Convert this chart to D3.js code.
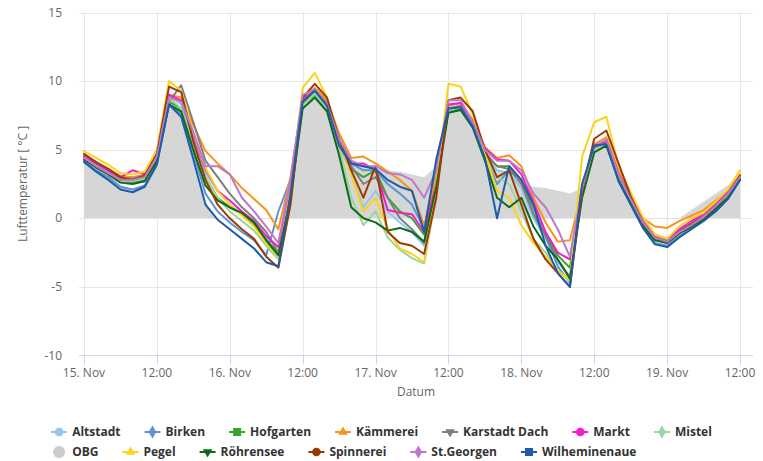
<!DOCTYPE html>
<html><head><meta charset="utf-8">
<script src="https://cdn.jsdelivr.net/npm/d3@7/dist/d3.min.js"></script>
<style>
body{margin:0;background:#fff}
svg{display:block}
text{font-family:"Open Sans",sans-serif}
</style>
</head><body>
<svg id="chart" width="763" height="461"></svg>
<script>
// ---- data ----
const hours = d3.range(0, 110, 2); // hours since 15 Nov 00:00, every 2 h
const xTickHours = [0, 12, 24, 36, 48, 60, 72, 84, 96, 108];
const xTickLabels = ["15. Nov","12:00","16. Nov","12:00","17. Nov","12:00","18. Nov","12:00","19. Nov","12:00"];
const yTicks = [-10, -5, 0, 5, 10, 15];
const yTitle = "Lufttemperatur [ °C ]";
const xTitle = "Datum";

const altstadt = [4.5,3.9,3.4,2.8,2.8,3.0,4.5,9.0,8.3,5.8, 3.3,2.0,1.0,0.3,-0.5,-1.5,-2.6,2.5,8.6,9.3, 8.2,5.5,3.2,0.8,2.0,0.5,-0.3,-1.0,-2.0,2.8, 8.0,8.2,6.8,4.7,3.5,3.3,2.2,0.0,-1.5,-3.2, -4.2,2.2,5.2,5.6,3.0,1.3,-0.3,-1.4,-1.7,-1.0, -0.4,0.1,0.9,1.8,2.9];
const birken = [4.2,3.5,3.0,2.3,2.1,2.4,4.0,8.3,7.6,4.8, 1.8,0.5,-0.3,-1.0,-1.6,-2.7,0.5,2.8,8.8,9.3, 8.1,5.4,4.0,3.5,3.5,2.5,1.8,1.0,-0.8,3.8, 7.9,8.1,6.7,4.5,2.5,3.5,2.6,0.8,-1.3,-3.5, -4.7,2.2,5.2,5.5,2.9,1.1,-0.6,-1.8,-2.0,-1.3, -0.7,-0.2,0.6,1.5,2.8];
const hofgarten = [4.4,3.8,3.3,2.7,2.6,2.8,4.3,8.5,8.0,5.5, 3.0,1.5,0.8,0.3,-0.5,-1.6,-2.5,2.0,8.3,9.0, 8.0,5.4,3.6,3.0,3.5,1.5,0.5,0.0,-1.2,2.8, 7.9,8.0,6.8,4.7,3.8,3.8,2.8,0.3,-1.2,-2.7, -3.6,2.0,5.1,5.5,3.0,1.3,-0.3,-1.4,-1.6,-0.9, -0.4,0.1,0.9,1.7,2.9];
const kaemmerei = [4.6,4.1,3.6,3.1,3.0,3.2,4.6,9.0,8.8,6.8, 4.9,4.0,3.2,2.2,1.4,0.6,-0.8,3.0,8.8,9.5, 8.6,6.2,4.4,4.5,4.0,3.4,2.8,2.0,-0.5,3.0, 8.2,8.4,7.2,5.2,4.4,4.6,3.8,1.5,-0.3,-1.7, -1.6,2.0,5.4,5.9,3.5,1.7,0.0,-0.6,-0.7,-0.2, 0.2,0.6,1.3,2.0,3.2];
const karstadt = [4.5,4.0,3.5,2.9,2.9,3.1,4.4,8.5,9.7,7.0, 4.2,3.0,1.8,0.8,0.0,-1.0,-2.5,1.5,8.3,9.3, 8.4,5.6,3.8,2.5,3.0,1.5,0.0,-0.8,-1.8,2.5, 8.0,8.2,6.9,4.8,3.8,3.6,2.5,0.3,-1.3,-3.0, -4.3,2.0,5.0,5.7,3.2,1.4,-0.2,-1.3,-1.6,-0.9, -0.4,0.2,1.0,1.8,3.0];
const markt = [4.5,4.0,3.5,3.0,3.5,3.2,4.6,9.0,8.6,6.0, 3.6,2.0,1.3,0.5,-0.2,-1.3,-2.1,2.0,8.6,9.3, 8.3,5.8,4.0,4.0,3.5,0.6,0.4,0.3,-1.0,2.5, 8.3,8.4,7.0,5.1,4.3,4.2,3.2,1.2,-1.0,-2.5, -3.0,2.3,5.2,5.6,3.2,1.5,-0.2,-1.2,-1.5,-0.8, -0.2,0.3,1.1,1.9,3.0];
const mistel = [4.4,3.8,3.3,2.7,2.7,2.9,4.3,8.8,8.0,5.5, 3.0,1.5,0.5,-0.2,-0.9,-2.0,-3.0,1.0,8.2,9.1, 8.0,5.2,1.5,-0.5,0.5,-1.4,-2.3,-2.9,-3.3,1.8, 7.9,8.1,6.7,4.6,3.0,2.5,0.5,-1.5,-2.5,-3.8, -4.6,1.6,5.0,5.4,2.9,1.2,-0.4,-1.5,-1.8,-1.1, -0.5,0.0,0.8,1.7,2.8];
const obg = [4.2,3.6,3.1,2.4,2.1,2.5,4.1,8.4,7.5,4.4, 1.2,-0.2,-0.9,-1.6,-2.2,-3.0,-3.4,1.8,8.4,9.1, 8.1,5.3,4.0,3.8,3.6,3.5,3.4,3.2,3.0,3.8, 7.9,8.0,6.6,4.4,3.5,3.2,2.5,2.3,2.2,2.0, 1.8,2.2,5.2,5.4,2.8,1.0,-0.5,-1.5,-1.6,0.0, 0.6,1.2,1.8,2.4,3.1];
const pegel = [4.9,4.4,3.9,3.3,3.2,3.4,5.0,10.0,9.3,6.2, 3.7,2.0,1.0,0.2,-0.6,-1.8,-2.8,2.0,9.5,10.6, 8.8,5.8,3.2,0.5,1.5,-0.8,-2.2,-2.6,-3.2,2.5, 9.8,9.6,7.6,4.8,2.0,1.5,-0.5,-1.8,-2.8,-3.8, -4.5,4.5,7.0,7.4,3.8,1.9,0.1,-1.2,-1.5,-0.6, 0.0,0.4,1.2,2.1,3.5];
const roehrensee = [4.3,3.7,3.2,2.6,2.5,2.7,4.2,8.3,7.8,5.0, 2.4,1.3,0.8,0.4,-0.3,-1.6,-2.7,1.5,8.0,8.8, 7.8,4.6,0.8,0.0,-0.3,-0.9,-0.7,-1.0,-1.7,2.3, 7.7,7.9,6.6,4.2,1.5,0.8,1.5,-0.6,-2.0,-3.0, -4.4,1.5,4.8,5.3,2.8,1.1,-0.5,-1.6,-1.8,-1.1, -0.6,-0.1,0.7,1.5,2.8];
const spinnerei = [4.7,4.1,3.6,3.0,2.8,3.1,4.7,9.6,9.2,5.6, 2.8,1.0,0.0,-0.8,-1.5,-2.8,-3.6,1.0,8.8,9.8, 8.8,5.8,3.5,1.5,3.8,-1.0,-1.8,-2.0,-2.6,1.5, 8.6,8.8,7.8,5.0,3.0,3.5,1.0,-1.5,-3.0,-4.0, -5.0,2.0,5.8,6.4,4.0,1.6,-0.3,-1.4,-1.7,-1.0, -0.4,0.1,0.9,1.8,3.1];
const stgeorgen = [4.4,3.8,3.3,2.8,2.8,3.0,4.5,8.8,8.5,6.3, 3.8,3.8,3.2,1.5,0.5,-0.6,-1.8,2.8,9.0,9.4, 8.3,5.8,4.2,3.8,3.8,3.3,3.2,2.8,1.5,3.5, 8.6,8.6,7.0,5.0,4.2,4.2,3.5,1.8,0.8,-0.8, -2.8,2.2,5.3,5.7,3.2,1.4,-0.3,-1.4,-1.7,-1.0, -0.5,0.1,0.9,1.8,3.0];
const wilheminenaue = [4.1,3.4,2.8,2.1,1.9,2.3,3.9,8.3,7.4,4.3, 1.0,-0.1,-0.8,-1.5,-2.2,-3.2,-3.5,1.8,8.5,9.3, 8.2,5.3,4.0,3.8,3.6,2.8,2.3,2.0,-1.0,4.3, 8.0,8.1,6.7,4.4,0.0,3.8,2.8,1.0,-2.0,-4.0, -5.0,2.5,5.3,5.4,2.7,1.0,-0.7,-1.9,-2.1,-1.4, -0.8,-0.2,0.5,1.4,2.8];

const seriesNames = ["Altstadt","Birken","Hofgarten","Kämmerei","Karstadt Dach","Markt","Mistel","OBG","Pegel","Röhrensee","Spinnerei","St.Georgen","Wilheminenaue"];
const seriesValues = [altstadt,birken,hofgarten,kaemmerei,karstadt,markt,mistel,obg,pegel,roehrensee,spinnerei,stgeorgen,wilheminenaue];
const seriesColors = ["#8ec8f2","#5f93d3","#3aa52c","#f7941d","#7f7f7f","#f31ccc","#9dd59a","#cccccc","#fbd31a","#0d6a16","#9b3a07","#bd78cb","#1d5ca8"];
const seriesSymbols = ["circle","diamond","square","triangle","triangle-down","circle","diamond","circle","triangle","triangle-down","circle","diamond","square"];

// ---- layout ----
const W = 763, H = 461;
const plot = {left: 79, right: 753, top: 12.5, bottom: 355.5};
const svg = d3.select("#chart");

const x = d3.scaleLinear().domain([-0.823, 110.14]).range([plot.left, plot.right]);
const y = d3.scaleLinear().domain([-10, 15]).range([plot.bottom, plot.top]);

// grid
const g = svg.append("g");
g.selectAll("line.vgrid").data(xTickHours).enter().append("line")
  .attr("x1", d => Math.round(x(d)) + 0.5).attr("x2", d => Math.round(x(d)) + 0.5)
  .attr("y1", plot.top).attr("y2", plot.bottom)
  .attr("stroke", "#e6e6e6").attr("stroke-width", 1);
g.selectAll("line.hgrid").data(yTicks.filter(v => v !== -10)).enter().append("line")
  .attr("x1", plot.left).attr("x2", plot.right)
  .attr("y1", d => Math.round(y(d)) + 0.5).attr("y2", d => Math.round(y(d)) + 0.5)
  .attr("stroke", "#e6e6e6").attr("stroke-width", 1);

// clip
svg.append("clipPath").attr("id", "clip").append("rect")
  .attr("x", plot.left).attr("y", plot.top).attr("width", plot.right - plot.left).attr("height", plot.bottom - plot.top);
svg.append("clipPath").attr("id", "clipPos").append("rect")
  .attr("x", plot.left).attr("y", plot.top).attr("width", plot.right - plot.left).attr("height", y(0) - plot.top);

// OBG area (only positive part visible)
const obgIdx = seriesNames.indexOf("OBG");
const area = d3.area().x((d, i) => x(hours[i])).y0(y(0)).y1(d => y(d));
svg.append("path").datum(seriesValues[obgIdx])
  .attr("clip-path", "url(#clipPos)")
  .attr("d", area).attr("fill", "#d6d6d6").attr("stroke", "none");

// lines
const line = d3.line().x((d, i) => x(hours[i])).y(d => y(d));
const lg = svg.append("g").attr("clip-path", "url(#clip)");
seriesValues.forEach((vals, k) => {
  if (k === obgIdx) return;
  lg.append("path").datum(vals).attr("d", line)
    .attr("fill", "none").attr("stroke", seriesColors[k]).attr("stroke-width", 2)
    .attr("stroke-linejoin", "round").attr("stroke-linecap", "round");
});

// x axis line + ticks
svg.append("line").attr("x1", plot.left).attr("x2", plot.right)
  .attr("y1", plot.bottom).attr("y2", plot.bottom).attr("stroke", "#ccd6eb");
svg.selectAll("line.xtick").data(xTickHours).enter().append("line")
  .attr("x1", d => Math.round(x(d)) + 0.5).attr("x2", d => Math.round(x(d)) + 0.5)
  .attr("y1", plot.bottom).attr("y2", plot.bottom + 9).attr("stroke", "#ccd6eb");
svg.selectAll("text.xl").data(xTickHours).enter().append("text")
  .attr("x", d => x(d)).attr("y", 377).attr("text-anchor", "middle")
  .attr("font-size", 12).attr("fill", "#666").text((d, i) => xTickLabels[i]);
svg.append("text").attr("x", (plot.left + plot.right) / 2).attr("y", 396)
  .attr("text-anchor", "middle").attr("font-size", 12).attr("fill", "#666").text(xTitle);

// y labels
svg.selectAll("text.yl").data(yTicks).enter().append("text")
  .attr("x", 62).attr("y", d => y(d) + 4).attr("text-anchor", "end")
  .attr("font-size", 12).attr("fill", "#666").text(d => d);
svg.append("text").attr("transform", `translate(27,${(plot.top + plot.bottom) / 2}) rotate(-90)`)
  .attr("text-anchor", "middle").attr("font-size", 12).attr("fill", "#666").text(yTitle);

// legend
const rows = [seriesNames.slice(0, 7), seriesNames.slice(7)];
const itemDist = 24, symW = 16, symPad = 5;
const legend = svg.append("g");
const measure = legend.append("text").attr("font-size", 12).attr("font-weight", "bold");
function tw(s) { measure.text(s); return measure.node().getComputedTextLength(); }
const row1W = rows[0].reduce((a, s) => a + symW + symPad + tw(s), 0) + itemDist * (rows[0].length - 1);
const startX = (W - row1W) / 2;
measure.remove();
const symGen = {
  "circle": d3.symbolCircle, "diamond": d3.symbolDiamond, "square": d3.symbolSquare,
  "triangle": d3.symbolTriangle, "triangle-down": d3.symbolTriangle
};
rows.forEach((row, r) => {
  let cx = startX;
  const cy = 432 + r * 20;
  row.forEach(name => {
    const k = seriesNames.indexOf(name);
    const col = seriesColors[k];
    const it = legend.append("g");
    if (name === "OBG") {
      it.append("circle").attr("cx", cx + symW / 2).attr("cy", cy).attr("r", 6).attr("fill", col);
    } else {
      it.append("line").attr("x1", cx).attr("x2", cx + symW).attr("y1", cy).attr("y2", cy)
        .attr("stroke", col).attr("stroke-width", 2);
      const s = seriesSymbols[k];
      const size = s === "square" ? 64 : (s === "diamond" ? 50 : (s.startsWith("triangle") ? 40 : 60));
      it.append("path").attr("d", d3.symbol().type(symGen[s]).size(size)())
        .attr("transform", `translate(${cx + symW / 2},${cy})` + (s === "triangle-down" ? " rotate(180)" : ""))
        .attr("fill", col);
    }
    const t = it.append("text").attr("x", cx + symW + symPad).attr("y", cy + 4)
      .attr("font-size", 12).attr("font-weight", "bold").attr("fill", "#333").text(name);
    cx += symW + symPad + t.node().getComputedTextLength() + itemDist;
  });
});
</script>
</body></html>
